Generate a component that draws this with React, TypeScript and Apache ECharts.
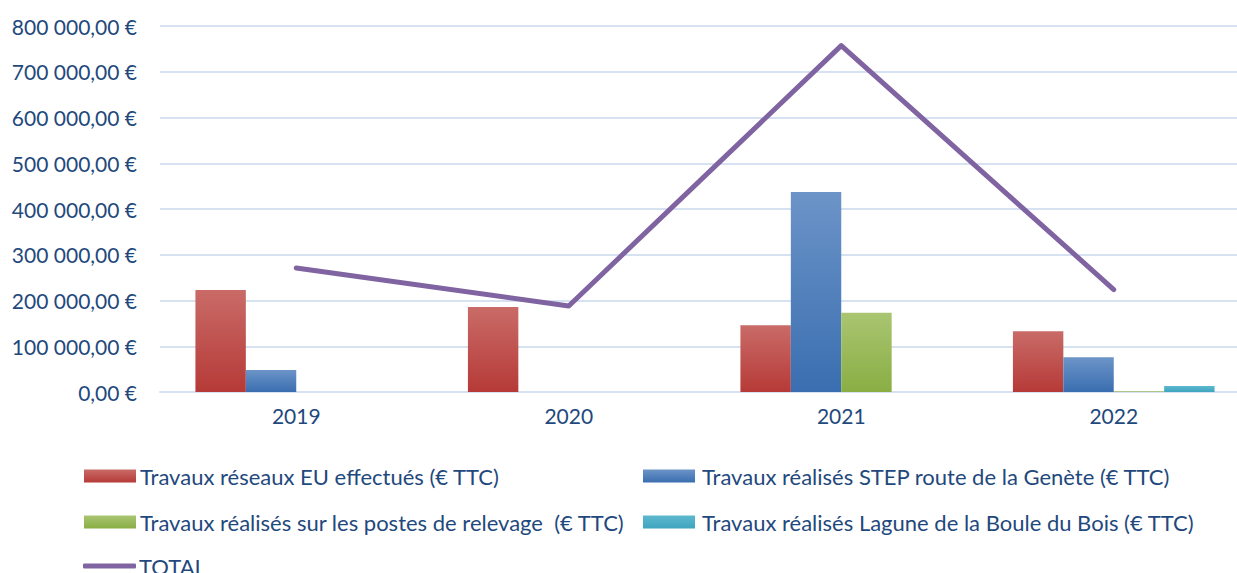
import React, { useEffect, useRef } from "react";
import * as echarts from "echarts";

const years = ["2019", "2020", "2021", "2022"];
const reseauxEU = [223000, 186000, 146000, 133000];
const stepGenete = [48000, 0, 437000, 76000];
const postesRelevage = [0, 0, 173000, 1500];
const lagune = [0, 0, 0, 13000];
const total = [271000, 188000, 757000, 224000];
const yTicks = [0, 100000, 200000, 300000, 400000, 500000, 600000, 700000, 800000];

const names = [
  "Travaux réseaux EU effectués (€ TTC)",
  "Travaux réalisés STEP route de la Genète (€ TTC)",
  "Travaux réalisés sur les postes de relevage  (€ TTC)",
  "Travaux réalisés Lagune de la Boule du Bois (€ TTC)",
  "TOTAL",
];

const FONT = "Lato, 'Open Sans', sans-serif";
const TXT = "#1F497D";

function fmt(v: number): string {
  const s = Math.round(v).toString().replace(/\B(?=(\d{3})+(?!\d))/g, " ");
  return s + ",00 €";
}

function grad(top: string, bottom: string) {
  return new echarts.graphic.LinearGradient(0, 0, 0, 1, [
    { offset: 0, color: top },
    { offset: 1, color: bottom },
  ]);
}

export default function App() {
  const ref = useRef<HTMLDivElement>(null);
  useEffect(() => {
    document.body.style.margin = "0";
    const chart = echarts.init(ref.current!, null, { renderer: "svg" });
    const barColors = [
      grad("#C96B68", "#B63A37"),
      grad("#6C94C8", "#3A6EB0"),
      grad("#A9C571", "#8AAE44"),
      grad("#5CB8CE", "#3FA4BF"),
    ];
    const legendText = { color: TXT, fontFamily: FONT, fontSize: 22 };
    const mkLegend = (name: string, left: number, top: number, gap: number, isLine = false) => ({
      data: [name],
      left,
      top,
      padding: 0,
      itemGap: 0,
      itemWidth: isLine ? 53 : 52,
      itemHeight: isLine ? 5 : 13,
      icon: isLine ? "roundRect" : "rect",
      textStyle: { ...legendText, padding: [0, 0, 0, gap - 5] },
      selectedMode: false,
    });
    chart.setOption({
      animation: false,
      backgroundColor: "#fff",
      grid: { left: 160, width: 1090, top: 26, height: 366 },
      legend: [
        mkLegend(names[0], 84, 465, 4),
        mkLegend(names[1], 643, 465, 7),
        mkLegend(names[2], 84, 511, 4),
        mkLegend(names[3], 643, 511, 7),
        mkLegend(names[4], 83, 555, 3, true),
      ],
      xAxis: {
        type: "category",
        data: years,
        axisLine: { lineStyle: { color: "#D6E1F2", width: 2 } },
        axisTick: { show: false },
        axisLabel: { color: TXT, fontFamily: FONT, fontSize: 21, margin: 13 },
      },
      yAxis: {
        type: "value",
        min: 0,
        max: yTicks[yTicks.length - 1],
        interval: yTicks[1] - yTicks[0],
        axisLabel: {
          color: TXT,
          fontFamily: FONT,
          fontSize: 21,
          margin: 23,
          formatter: (v: number) => fmt(v),
        },
        axisLine: { show: false },
        axisTick: { show: false },
        splitLine: { lineStyle: { color: "#D6E1F2", width: 2 } },
      },
      series: [
        { name: names[0], type: "bar", data: reseauxEU, barGap: "0%", barCategoryGap: "26%", itemStyle: { color: barColors[0] } },
        { name: names[1], type: "bar", data: stepGenete, barGap: "0%", barCategoryGap: "26%", itemStyle: { color: barColors[1] } },
        { name: names[2], type: "bar", data: postesRelevage, barGap: "0%", barCategoryGap: "26%", itemStyle: { color: barColors[2] } },
        { name: names[3], type: "bar", data: lagune, barGap: "0%", barCategoryGap: "26%", itemStyle: { color: barColors[3] } },
        {
          name: names[4],
          type: "line",
          data: total,
          symbol: "none",
          lineStyle: { color: "#8064A2", width: 5, cap: "round", join: "round" },
          itemStyle: { color: "#8064A2" },
        },
      ],
    });
    return () => chart.dispose();
  }, []);
  return (
    <div style={{ width: 1237, height: 573, overflow: "hidden" }}>
      <div ref={ref} style={{ width: 1252, height: 573 }} />
    </div>
  );
}
